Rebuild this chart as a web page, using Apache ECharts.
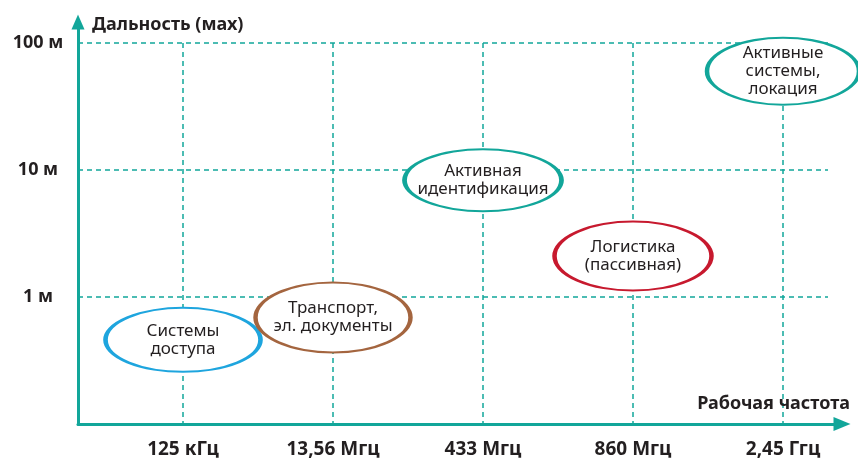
<!DOCTYPE html>
<html>
<head>
<meta charset="utf-8">
<script src="https://cdn.jsdelivr.net/npm/echarts@6/dist/echarts.min.js"></script>
<style>
  html, body { margin: 0; padding: 0; background: #fff; }
  #chart { width: 858px; height: 460px; }
</style>
</head>
<body>
<div id="chart"></div>
<script>
// частоты (ось X)
var freqLabels = ['125 кГц', '13,56 Мгц', '433 Мгц', '860 Мгц', '2,45 Ггц'];
// деления оси Y (метры) и их подписи
var rangeTicks = [1, 10, 100];
var rangeTickLabels = ['1 м', '10 м', '100 м'];
// области применения: текст, индекс частоты, дальность (м)
var areaNames = ['Системы\nдоступа', 'Транспорт,\nэл. документы', 'Активная\nидентификация', 'Логистика\n(пассивная)', 'Активные\nсистемы,\nлокация'];
var areaFreq = [0, 1, 2, 3, 4];
var areaRange = [0.46, 0.69, 8.3, 2.1, 60];

var teal = '#12a69a';
var textColor = '#231f20';
var font = 'Noto Sans';
var ellipseColors = ['#1ea5de', '#a4653f', teal, '#c7192e', teal];
var ellipseSizes = [[155, 64], [155, 70], [157, 62], [157, 69], [152, 67]];

var freqIdx = freqLabels.map(function (f, i) { return i; });

var chart = echarts.init(document.getElementById('chart'));

var points = areaNames.map(function (n, i) {
  return {
    name: n,
    value: [areaFreq[i], areaRange[i]],
    symbolSize: ellipseSizes[i],
    itemStyle: { borderColor: ellipseColors[i] }
  };
});

chart.setOption({
  animation: false,
  grid: [
    { left: 78, right: 16, top: 22, bottom: 36 },   // оси со стрелками
    { left: 78, right: 30, top: 43, bottom: 36 }    // сетка и данные
  ],
  xAxis: [
    {
      gridIndex: 0, type: 'value', min: 0, max: 1,
      name: 'Рабочая частота', nameLocation: 'end', nameGap: 8,
      nameTextStyle: {
        fontFamily: font, fontSize: 18, fontWeight: 'bold', color: textColor,
        align: 'right', verticalAlign: 'bottom', padding: [0, 0, 11, 0]
      },
      axisLine: { lineStyle: { color: teal, width: 3 }, symbol: ['none', 'triangle'], symbolSize: [14, 17] },
      axisTick: { show: false }, axisLabel: { show: false }, splitLine: { show: false }
    },
    {
      gridIndex: 1, type: 'value', min: -0.7, max: 4.3,
      axisLine: { show: false },
      axisTick: { show: false, customValues: freqIdx },
      axisLabel: {
        customValues: freqIdx, margin: 16,
        fontFamily: font, fontSize: 19, fontWeight: 'bold', color: textColor,
        formatter: function (v) { return freqLabels[Math.round(v)]; }
      },
      splitLine: { show: true, lineStyle: { color: teal, width: 1.5, type: [5, 4] } }
    }
  ],
  yAxis: [
    {
      gridIndex: 0, type: 'value', min: 0, max: 1,
      name: 'Дальность (мах)', nameLocation: 'end', nameGap: -3,
      nameTextStyle: {
        fontFamily: font, fontSize: 18, fontWeight: 'bold', color: textColor,
        align: 'left', verticalAlign: 'middle', padding: [0, 0, 0, 14]
      },
      axisLine: { show: true, lineStyle: { color: teal, width: 3 }, symbol: ['none', 'triangle'], symbolSize: [13, 15] },
      axisTick: { show: false }, axisLabel: { show: false }, splitLine: { show: false }
    },
    {
      gridIndex: 1, type: 'log', logBase: 10, min: 0.1, max: 100,
      axisLine: { show: false }, axisTick: { show: false },
      axisLabel: {
        margin: 40, align: 'center', showMinLabel: false,
        fontFamily: font, fontSize: 18, fontWeight: 'bold', color: textColor,
        formatter: function (v) {
          for (var i = 0; i < rangeTicks.length; i++) {
            if (Math.abs(Math.log10(v) - Math.log10(rangeTicks[i])) < 1e-6) return rangeTickLabels[i];
          }
          return '';
        }
      },
      splitLine: { show: true, showMinLine: false, lineStyle: { color: teal, width: 1.5, type: [5, 4] } }
    }
  ],
  series: [{
    type: 'scatter',
    xAxisIndex: 1, yAxisIndex: 1,
    symbol: 'circle',
    clip: false,
    silent: true,
    itemStyle: { color: '#fff', borderWidth: 3, opacity: 1 },
    label: {
      show: true, position: 'inside', formatter: '{b}',
      fontFamily: font, fontSize: 17, lineHeight: 18, color: textColor
    },
    emphasis: { disabled: true },
    data: points
  }]
});
</script>
</body>
</html>
